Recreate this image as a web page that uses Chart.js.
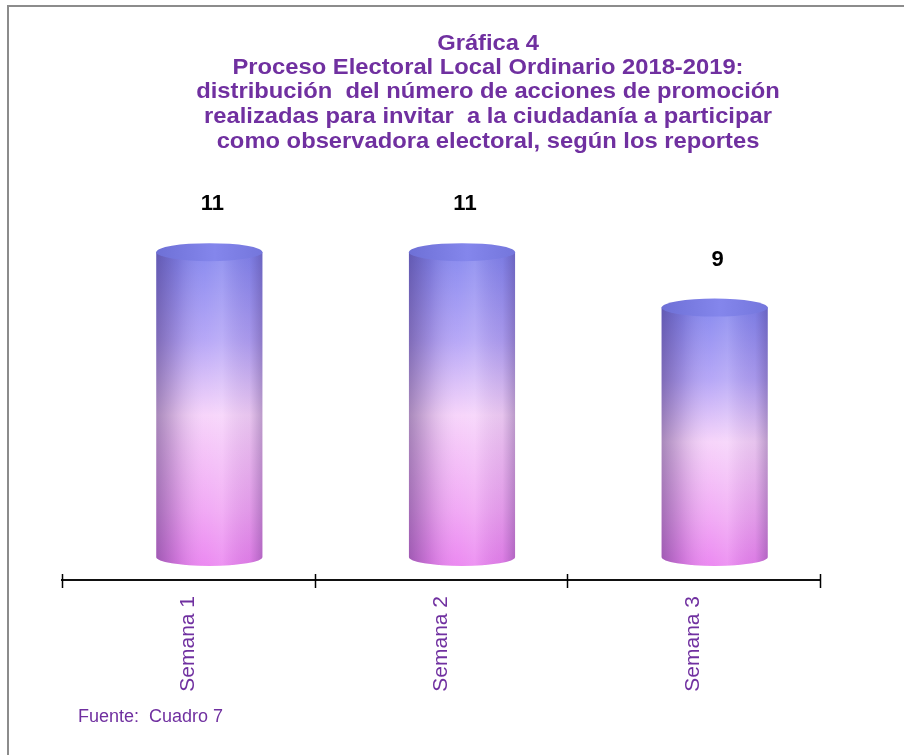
<!DOCTYPE html>
<html>
<head>
<meta charset="utf-8">
<script src="https://cdn.jsdelivr.net/npm/chart.js@4/dist/chart.umd.min.js"></script>
<style>
  html, body { margin: 0; padding: 0; background: #fff; overflow: hidden; }
  #wrap { width: 904px; height: 755px; position: relative; }
</style>
</head>
<body>
<div id="wrap"><canvas id="grafica"></canvas></div>
<script>
const categories = ['Semana 1', 'Semana 2', 'Semana 3'];
const acciones = [11, 11, 9];
const titleLines = [
    'Gráfica 4',
    'Proceso Electoral Local Ordinario 2018-2019:',
    'distribución  del número de acciones de promoción',
    'realizadas para invitar  a la ciudadanía a participar',
    'como observadora electoral, según los reportes'
];
const fuente = 'Fuente:  Cuadro 7';

const PURPLE = '#7030A0';
const FONT = '"Liberation Sans", Arial, sans-serif';

// cylinders are drawn with a small 3D shift, like the original Excel chart
const cylinderPlugin = {
    id: 'cylinders',
    afterDatasetsDraw(chart) {
        const ctx = chart.ctx;
        const meta = chart.getDatasetMeta(0);
        const dx = 21, dy = -23, ry = 9;
        meta.data.forEach(function (bar, i) {
            const cx = bar.x + dx;
            const rx = bar.width / 2;
            const top = bar.y + dy;
            const base = bar.base + dy;

            ctx.save();
            // body
            ctx.beginPath();
            ctx.moveTo(cx - rx, top);
            ctx.lineTo(cx - rx, base);
            ctx.ellipse(cx, base, rx, ry, 0, Math.PI, 0, true);
            ctx.lineTo(cx + rx, top);
            ctx.closePath();
            const vg = ctx.createLinearGradient(0, top, 0, base + ry);
            vg.addColorStop(0, '#8284ee');
            vg.addColorStop(0.28, '#b2a2f6');
            vg.addColorStop(0.52, '#f6d2fa');
            vg.addColorStop(0.82, '#f0a4f4');
            vg.addColorStop(1, '#ea82f0');
            ctx.fillStyle = vg;
            ctx.fill();
            const hg = ctx.createLinearGradient(cx - rx, 0, cx + rx, 0);
            hg.addColorStop(0, 'rgba(50,25,90,0.40)');
            hg.addColorStop(0.2, 'rgba(50,25,90,0.16)');
            hg.addColorStop(0.45, 'rgba(255,255,255,0.06)');
            hg.addColorStop(0.62, 'rgba(255,255,255,0.14)');
            hg.addColorStop(0.88, 'rgba(50,25,90,0.08)');
            hg.addColorStop(1, 'rgba(50,25,90,0.30)');
            ctx.fillStyle = hg;
            ctx.fill();

            // top cap
            ctx.beginPath();
            ctx.ellipse(cx, top, rx, ry, 0, 0, Math.PI * 2);
            const tg = ctx.createLinearGradient(cx - rx, 0, cx + rx, 0);
            tg.addColorStop(0, '#6e70d6');
            tg.addColorStop(0.55, '#8486ec');
            tg.addColorStop(1, '#7476dc');
            ctx.fillStyle = tg;
            ctx.fill();

            // value label
            ctx.fillStyle = '#000';
            ctx.font = 'bold 22px ' + FONT;
            ctx.textAlign = 'center';
            ctx.textBaseline = 'middle';
            ctx.fillText(String(acciones[i]), cx + 3, top - 48);
            ctx.restore();
        });
    },
    afterDraw(chart) {
        const ctx = chart.ctx;
        const x = chart.scales.x;
        ctx.save();

        // frame
        ctx.strokeStyle = '#8c8c8c';
        ctx.lineWidth = 2;
        ctx.beginPath();
        ctx.moveTo(8, 755);
        ctx.lineTo(8, 6);
        ctx.lineTo(904, 6);
        ctx.stroke();

        // tick marks crossing the axis
        const n = categories.length;
        const axisY = x.top + 1;
        ctx.strokeStyle = '#000';
        ctx.lineWidth = 1.5;
        for (let i = 0; i <= n; i++) {
            const px = Math.round(x.left + i * (x.right - x.left) / n) + 0.5;
            ctx.beginPath();
            ctx.moveTo(px, axisY - 7);
            ctx.lineTo(px, axisY + 7);
            ctx.stroke();
        }

        // title (slightly wide lettering, as in the original)
        ctx.fillStyle = PURPLE;
        ctx.font = 'bold 22px ' + FONT;
        ctx.textAlign = 'center';
        ctx.textBaseline = 'middle';
        const ys = [44, 68, 92, 117, 142];
        titleLines.forEach(function (t, i) {
            ctx.save();
            ctx.translate(488, ys[i]);
            ctx.scale(1.08, 1);
            ctx.fillText(t, 0, 0);
            ctx.restore();
        });

        // source note
        ctx.font = '18px ' + FONT;
        ctx.textAlign = 'left';
        ctx.fillText(fuente, 78, 717);
        ctx.restore();
    }
};

const chart = new Chart(document.getElementById('grafica'), {
    type: 'bar',
    data: {
        labels: categories,
        datasets: [{
            label: 'Acciones de promoción',
            data: acciones,
            backgroundColor: 'rgba(0,0,0,0)',
            borderWidth: 0,
            barPercentage: 0.42,
            categoryPercentage: 1
        }]
    },
    options: {
        responsive: true,
        maintainAspectRatio: false,
        animation: false,
        layout: { padding: { left: 62, right: 84, top: 192, bottom: 0 } },
        plugins: {
            legend: { display: false },
            tooltip: { enabled: false },
            title: { display: false }
        },
        scales: {
            x: {
                grid: { display: true, drawOnChartArea: false, drawTicks: false, offset: true },
                border: { display: true, color: '#111', width: 2 },
                ticks: {
                    color: PURPLE,
                    font: { family: FONT, size: 21 },
                    minRotation: 90,
                    maxRotation: 90,
                    autoSkip: false,
                    padding: 16
                },
                afterFit: function (scale) { scale.height = 175; }
            },
            y: {
                display: false,
                min: 0,
                max: 14
            }
        }
    },
    plugins: [cylinderPlugin]
});
</script>
</body>
</html>
